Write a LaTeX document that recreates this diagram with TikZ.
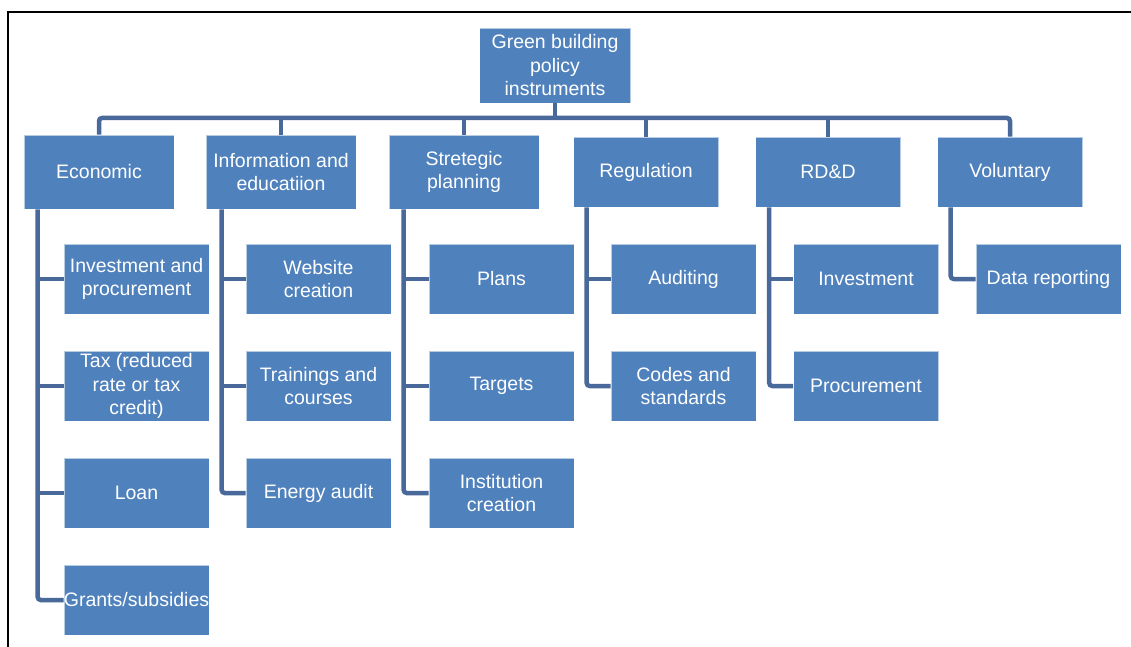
\documentclass[tikz,border=0pt]{standalone}
\usepackage{fontspec}
\setmainfont{Liberation Sans}
\definecolor{boxblue}{HTML}{4F81BD}
\definecolor{lineblue}{HTML}{48699A}
\tikzset{
  box/.style={rectangle, fill=boxblue, draw=white, draw opacity=0.6, line width=0.6pt,
    text=white, align=center, inner sep=0pt, font=\fontsize{19.5}{23.5}\selectfont},
  bigbox/.style={box, minimum width=150, minimum height=74},
  smallbox/.style={box, minimum width=145, minimum height=70},
  conn/.style={draw=lineblue, line width=4.5pt, rounded corners=3pt},
  frameline/.style={draw=black, line width=1.3pt}
}
\begin{document}
\begin{tikzpicture}[x=1pt, y=-1pt]
\useasboundingbox (0,0) rectangle (1131,647);
\draw[frameline] (8,647) -- (8,12) -- (1131,12);

% root
\node[box, minimum width=151, minimum height=75] (root) at (555,65.5) {Green building\\policy\\instruments};

% level 1
\node[bigbox] (eco) at (99,172) {Economic};
\node[bigbox] (inf) at (281,172) {Information and\\educatiion};
\node[bigbox] (str) at (464,172) {Stretegic\\planning};
\node[smallbox] (reg) at (646,172) {Regulation};
\node[smallbox] (rdd) at (828,172) {RD\&D};
\node[smallbox] (vol) at (1010,172) {Voluntary};

% level 2
\node[smallbox] (eco1) at (136.5,279) {Investment and\\procurement};
\node[smallbox] (eco2) at (136.5,386) {Tax (reduced\\rate or tax\\credit)};
\node[smallbox] (eco3) at (136.5,493) {Loan};
\node[smallbox] (eco4) at (136.5,600) {Grants/subsidies};
\node[smallbox] (inf1) at (318.5,279) {Website\\creation};
\node[smallbox] (inf2) at (318.5,386) {Trainings and\\courses};
\node[smallbox] (inf3) at (318.5,493) {Energy audit};
\node[smallbox] (str1) at (501.5,279) {Plans};
\node[smallbox] (str2) at (501.5,386) {Targets};
\node[smallbox] (str3) at (501.5,493) {Institution\\creation};
\node[smallbox] (reg1) at (683.5,279) {Auditing};
\node[smallbox] (reg2) at (683.5,386) {Codes and\\standards};
\node[smallbox] (rdd1) at (866,279) {Investment};
\node[smallbox] (rdd2) at (866,386) {Procurement};
\node[smallbox] (vol1) at (1048.5,279) {Data reporting};

% bus
\coordinate (bus) at (555,118);
\draw[conn] (eco.north) -- (eco.north |- bus) -- (vol.north |- bus) -- (vol.north);
\draw[conn] (root.south) -- (root.south |- bus);
\foreach \n in {inf,str,reg,rdd} {
  \draw[conn] (\n.north) -- (\n.north |- bus);
}

% spines
\coordinate (ecoX) at ([xshift=-26pt]eco1.west);
\coordinate (infX) at ([xshift=-24pt]inf1.west);
\coordinate (strX) at ([xshift=-25pt]str1.west);
\coordinate (regX) at ([xshift=-24pt]reg1.west);
\coordinate (rddX) at ([xshift=-24pt]rdd1.west);
\coordinate (volX) at ([xshift=-25pt]vol1.west);

\draw[conn] (ecoX |- eco.south) |- (eco4.west);
\foreach \c in {eco1,eco2,eco3} { \draw[conn] (ecoX |- \c.west) -- (\c.west); }
\draw[conn] (infX |- inf.south) |- (inf3.west);
\foreach \c in {inf1,inf2} { \draw[conn] (infX |- \c.west) -- (\c.west); }
\draw[conn] (strX |- str.south) |- (str3.west);
\foreach \c in {str1,str2} { \draw[conn] (strX |- \c.west) -- (\c.west); }
\draw[conn] (regX |- reg.south) |- (reg2.west);
\draw[conn] (regX |- reg1.west) -- (reg1.west);
\draw[conn] (rddX |- rdd.south) |- (rdd2.west);
\draw[conn] (rddX |- rdd1.west) -- (rdd1.west);
\draw[conn] (volX |- vol.south) |- (vol1.west);
\end{tikzpicture}
\end{document}
